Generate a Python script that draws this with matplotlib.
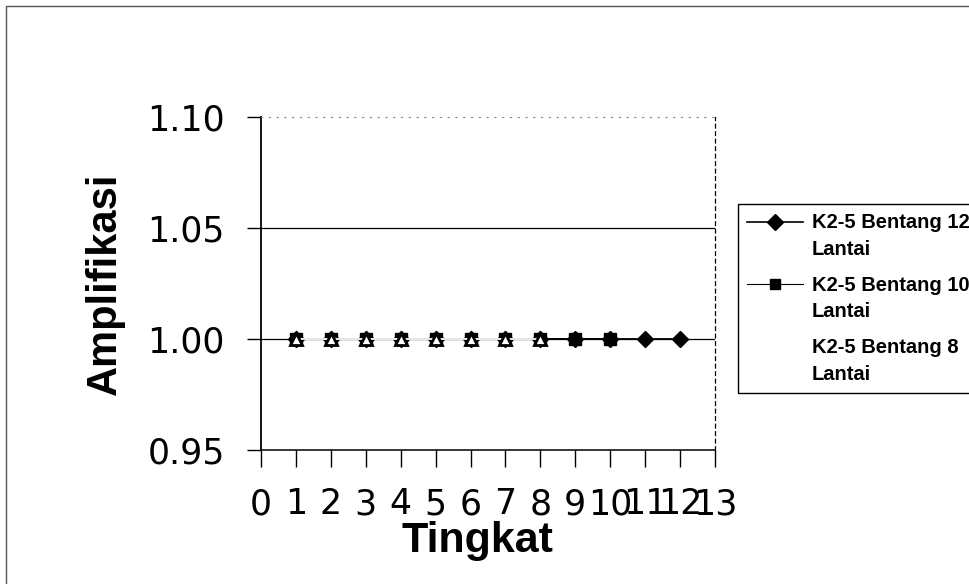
import matplotlib
matplotlib.use("Agg")
import matplotlib.pyplot as plt
from matplotlib.lines import Line2D
from matplotlib.patches import Rectangle
from matplotlib.legend_handler import HandlerLine2D

plt.rcParams['font.family'] = ['Liberation Sans', 'DejaVu Sans']

# Amplification per storey for three frame heights
lantai_12 = list(range(1, 13))
amp_12 = [1.00] * 12
lantai_10 = list(range(1, 11))
amp_10 = [1.00] * 10
lantai_8 = list(range(1, 9))
amp_8 = [1.00] * 8

labels = ["K2-5 Bentang 12\nLantai", "K2-5 Bentang 10\nLantai", "K2-5 Bentang 8\nLantai"]
x_ticks = list(range(0, 14))
y_ticks = [0.95, 1.00, 1.05, 1.10]


class FirstLineHandler(HandlerLine2D):
    """Places the legend key beside the first line of a two-line label."""

    def __init__(self, shift, **kw):
        super().__init__(**kw)
        self.shift = shift

    def create_artists(self, legend, orig_handle, xdescent, ydescent, width, height, fontsize, trans):
        artists = super().create_artists(legend, orig_handle, xdescent, ydescent,
                                         width, height, fontsize, trans)
        for a in artists:
            a.set_ydata([y + self.shift for y in a.get_ydata()])
        return artists


fig = plt.figure(figsize=(9.70, 5.84), dpi=100)
fig.patches.append(Rectangle((6 / 970, -0.1), 1.2, 1 - 6 / 584 + 0.1, transform=fig.transFigure,
                             fill=False, edgecolor='#555555', linewidth=1.0))

ax = fig.add_axes([261 / 970, 1 - 450 / 584, (715 - 261) / 970, (450 - 117) / 584])

ax.plot(lantai_12, amp_12, color='black', linewidth=1.3, marker='D', markersize=8,
        markerfacecolor='black', markeredgecolor='black', zorder=3)
ax.plot(lantai_10, amp_10, color='black', linewidth=1.3, marker='s', markersize=8,
        markerfacecolor='black', markeredgecolor='black', zorder=4)
ax.plot(lantai_8, amp_8, color='white', linewidth=1.3, marker='^', markersize=9,
        markerfacecolor='white', markeredgecolor='black', markeredgewidth=2.0, zorder=5)

ax.set_xlim(0, 13)
ax.set_ylim(0.95, 1.10)
ax.set_xticks(x_ticks)
ax.set_xticklabels([str(v) for v in x_ticks], family='DejaVu Sans')
ax.set_yticks(y_ticks)
ax.set_yticklabels([f"{v:.2f}" for v in y_ticks], family='DejaVu Sans')

for v in [1.00, 1.05]:
    ax.axhline(v, color='black', linewidth=0.9, zorder=1)

ax.spines['top'].set_linestyle((0, (1, 6)))
ax.spines['top'].set_color('#888888')
ax.spines['top'].set_linewidth(0.8)
ax.spines['right'].set_linestyle((0, (3, 3)))
ax.spines['right'].set_linewidth(0.9)
ax.spines['left'].set_linewidth(1.3)
ax.spines['bottom'].set_linewidth(1.1)

ax.tick_params(axis='x', direction='out', length=12, width=1.0, labelsize=25, pad=15)
ax.tick_params(axis='y', direction='out', length=10, width=1.0, labelsize=25, pad=16)

ax.set_xlabel("Tingkat", fontsize=31, fontweight='bold')
ax.xaxis.set_label_coords(0.477, -0.212)
ax.xaxis.label.set_va('top')
ax.set_ylabel("Amplifikasi", fontsize=30, fontweight='bold', labelpad=16)

handles = [
    Line2D([], [], color='black', linewidth=1.2, marker='D', markersize=8),
    Line2D([], [], color='black', linewidth=0.8, marker='s', markersize=7),
    Line2D([], [], color='none', marker='none'),
]
leg = fig.legend(handles, labels, loc='upper left', bbox_to_anchor=(738 / 970, 1 - 204 / 584),
                 frameon=True, fancybox=False, edgecolor='black', framealpha=1,
                 prop={'size': 14.5, 'weight': 'bold'}, handlelength=2.8, handletextpad=0.4,
                 labelspacing=0.85, borderpad=0.45, borderaxespad=0,
                 handler_map={Line2D: FirstLineHandler(shift=10.5)})
leg.get_frame().set_linewidth(1.0)
for t in leg.get_texts():
    t.set_linespacing(1.5)

fig.savefig("out.png", dpi=100)
